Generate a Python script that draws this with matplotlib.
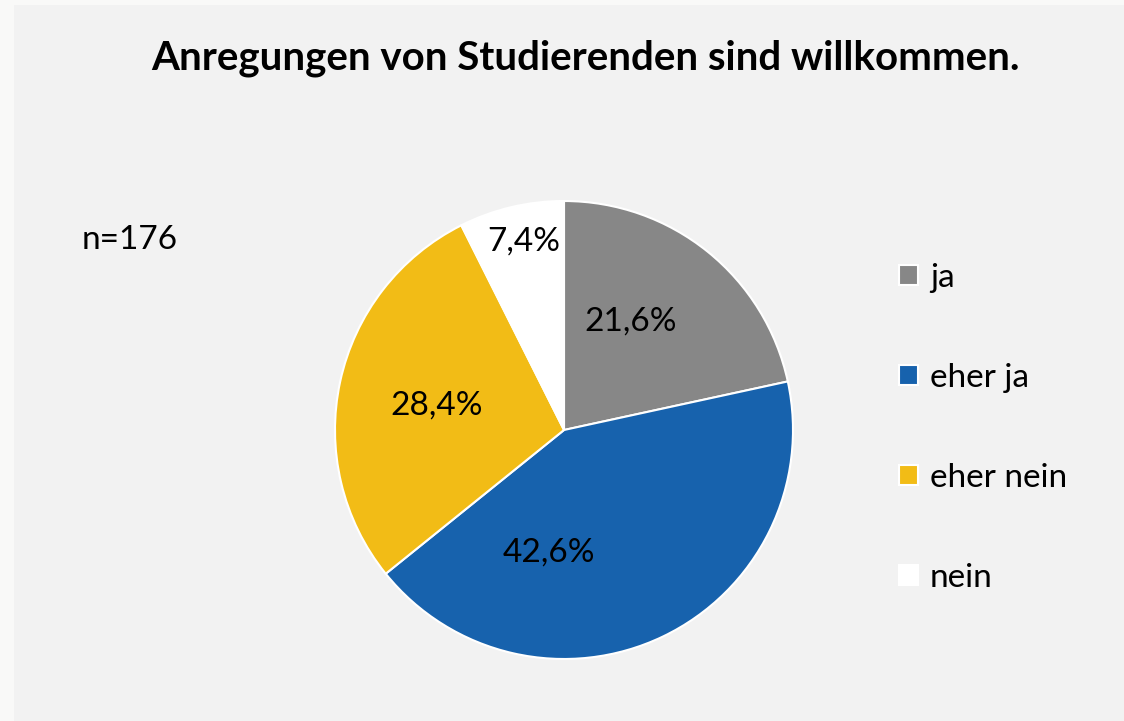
import matplotlib.pyplot as plt
from matplotlib.patches import Rectangle

# survey answers, share in percent
categories = ['ja', 'eher ja', 'eher nein', 'nein']
shares = [21.6, 42.6, 28.4, 7.4]
colors = ['#878787', '#1762ad', '#f2bc16', '#ffffff']
n_total = 176
title = 'Anregungen von Studierenden sind willkommen.'

# label anchors in pie radius units
label_pos = [(0.293, 0.472), (-0.066, -0.537), (-0.555, 0.109), (-0.175, 0.825)]

plt.rcParams['font.family'] = ['Lato', 'DejaVu Sans']

W, H = 1124, 721
fig = plt.figure(figsize=(W / 100, H / 100), dpi=100, facecolor='#f9f9f8')

# chart area
fig.patches.append(Rectangle((14 / W, 0), 1, 1 - 5 / H, transform=fig.transFigure,
                             facecolor='#f2f2f2', edgecolor='none', zorder=-10))

cx, cy, r = 564, 430, 229
ax = fig.add_axes([(cx - r) / W, (H - cy - r) / H, 2 * r / W, 2 * r / H])
ax.axis('off')

wedges, _ = ax.pie(shares, colors=colors, startangle=90, counterclock=False, radius=1,
                   wedgeprops=dict(edgecolor='white', linewidth=1.5))
ax.set_xlim(-1, 1)
ax.set_ylim(-1, 1)

for val, (x, y) in zip(shares, label_pos):
    ax.text(x, y, f'{val:.1f}%'.replace('.', ','), ha='center', va='center',
            fontsize=24, color='black')

fig.text(585 / W, 1 - 58 / H, title, ha='center', va='center',
         fontsize=29, fontweight='bold')
fig.text(82 / W, 1 - 240 / H, f'n={n_total}', ha='left', va='center', fontsize=24)

fig.legend(wedges, categories, loc='center left', bbox_to_anchor=(899 / W, 1 - 428 / H),
           frameon=False, fontsize=24, labelspacing=2.1, handlelength=0.57,
           handleheight=0.57, handletextpad=0.36, borderpad=0, borderaxespad=0)

fig.savefig('out.png', dpi=100, facecolor=fig.get_facecolor())
